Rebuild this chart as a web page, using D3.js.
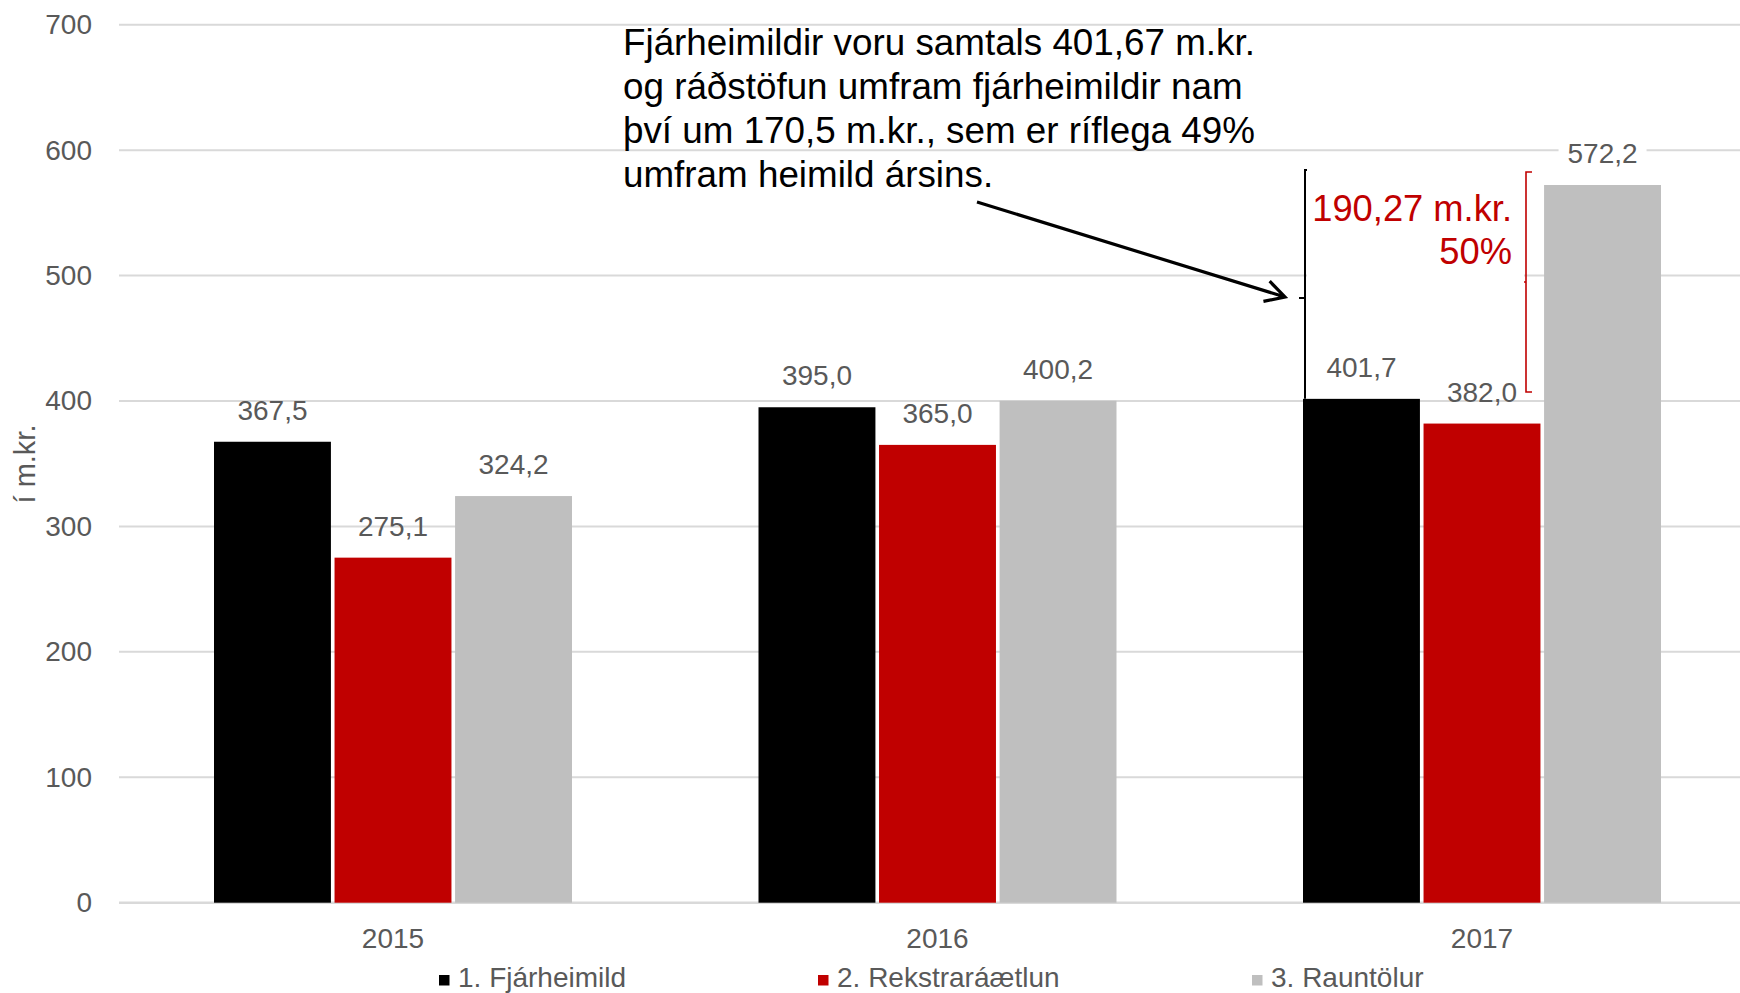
<!DOCTYPE html>
<html>
<head>
<meta charset="utf-8">
<script src="https://cdn.jsdelivr.net/npm/d3@7"></script>
<style>
  body { margin: 0; background: #fff; }
  svg { display: block; font-family: "Liberation Sans", Arial, sans-serif; }
</style>
</head>
<body>
<div id="chart"></div>
<script>
// data
const years = ["2015", "2016", "2017"];
const seriesNames = ["1. Fjárheimild", "2. Rekstraráætlun", "3. Rauntölur"];
const fjarheimild = [367.5, 395.0, 401.7];
const rekstraraaetlun = [275.1, 365.0, 382.0];
const rauntolur = [324.2, 400.2, 572.2];
const seriesColors = ["#000000", "#C00000", "#BFBFBF"];
const yTicks = [0, 100, 200, 300, 400, 500, 600, 700];
const yLabel = "í m.kr.";
const noteLines = [
    "Fjárheimildir voru samtals 401,67 m.kr.",
    "og ráðstöfun umfram fjárheimildir nam",
    "því um 170,5 m.kr., sem er ríflega 49%",
    "umfram heimild ársins."
];
const gapLines = ["190,27 m.kr.", "50%"];

const width = 1740;
const height = 993;
const labelColor = "#595959";
const fmt = v => v.toFixed(1).replace(".", ",");

const svg = d3.select("#chart")
    .append("svg")
    .attr("width", width)
    .attr("height", height);

const y = d3.scaleLinear().domain([0, 700]).range([902.7, 24.7]);
const x = d3.scaleBand().domain(years).range([120.75, 1754.25]);
const groupWidth = 358;
const xs = d3.scaleBand().domain(seriesNames).range([0, groupWidth]).paddingInner(0.03);

// gridlines
svg.append("g")
    .selectAll("line")
    .data(yTicks)
    .enter()
    .append("line")
    .attr("x1", 119)
    .attr("x2", width)
    .attr("y1", d => y(d))
    .attr("y2", d => y(d))
    .attr("stroke", "#D9D9D9")
    .attr("stroke-width", d => d === 0 ? 2.5 : 2);

// y tick labels
svg.append("g")
    .selectAll("text")
    .data(yTicks)
    .enter()
    .append("text")
    .attr("x", 92)
    .attr("y", d => y(d) + 9.5)
    .attr("text-anchor", "end")
    .style("font-size", "28px")
    .style("fill", labelColor)
    .text(d => d);

svg.append("text")
    .attr("transform", "translate(35,464) rotate(-90)")
    .attr("text-anchor", "middle")
    .style("font-size", "29px")
    .style("fill", labelColor)
    .text(yLabel);

// bars
const seriesData = [fjarheimild, rekstraraaetlun, rauntolur].map((vals, i) => ({
    name: seriesNames[i],
    color: seriesColors[i],
    values: vals.map((v, j) => ({ year: years[j], value: v }))
}));

const groupX = yr => x(yr) + (x.bandwidth() - groupWidth) / 2;

const series = svg.append("g")
    .selectAll("g")
    .data(seriesData)
    .enter()
    .append("g");

series.selectAll("rect")
    .data(d => d.values.map(v => ({ ...v, name: d.name, color: d.color })))
    .enter()
    .append("rect")
    .attr("x", d => groupX(d.year) + xs(d.name))
    .attr("y", d => y(d.value))
    .attr("width", xs.bandwidth())
    .attr("height", d => y(0) - y(d.value))
    .attr("fill", d => d.color);

// data labels (the last series gets a white box, as in the original)
const labels = svg.append("g");
seriesData.forEach((s, i) => {
    s.values.forEach(v => {
        const cx = groupX(v.year) + xs(s.name) + xs.bandwidth() / 2;
        const by = y(v.value) - 22;
        if (i === 2) {
            labels.append("rect")
                .attr("x", cx - 44)
                .attr("y", by - 27)
                .attr("width", 88)
                .attr("height", 34)
                .attr("fill", "#fff");
        }
        labels.append("text")
            .attr("x", cx)
            .attr("y", by)
            .attr("text-anchor", "middle")
            .style("font-size", "28px")
            .style("fill", labelColor)
            .text(fmt(v.value));
    });
});

// x axis labels
svg.append("g")
    .selectAll("text")
    .data(years)
    .enter()
    .append("text")
    .attr("x", d => x(d) + x.bandwidth() / 2)
    .attr("y", 948)
    .attr("text-anchor", "middle")
    .style("font-size", "28px")
    .style("fill", labelColor)
    .text(d => d);

// legend
const legendX = [439, 818, 1252];
const legend = svg.append("g")
    .selectAll("g")
    .data(seriesData)
    .enter()
    .append("g")
    .attr("transform", (d, i) => `translate(${legendX[i]},0)`);

legend.append("rect")
    .attr("x", 0)
    .attr("y", 975)
    .attr("width", 10.5)
    .attr("height", 10.5)
    .attr("fill", d => d.color);

legend.append("text")
    .attr("x", 19)
    .attr("y", 987)
    .style("font-size", "28px")
    .style("fill", labelColor)
    .text(d => d.name);

// annotation: black bracket on top of the 2017 appropriation bar
const bx = 1305;
svg.append("path")
    .attr("d", `M${bx + 6},170 H${bx} V${y(fjarheimild[2])} M${bx - 6},298 H${bx}`)
    .attr("fill", "none")
    .attr("stroke", "#000")
    .attr("stroke-width", 2);

// red bracket between budget and actuals
const rx = 1526;
svg.append("path")
    .attr("d", `M${rx + 6},172 H${rx} V392 H${rx + 6} M${rx - 6},282 H${rx}`)
    .attr("fill", "none")
    .attr("stroke", "#C00000")
    .attr("stroke-width", 1.6);

svg.append("rect")
    .attr("x", 1307)
    .attr("y", 160)
    .attr("width", 217)
    .attr("height", 128)
    .attr("fill", "#fff");

svg.append("g")
    .selectAll("text")
    .data(gapLines)
    .enter()
    .append("text")
    .attr("x", 1512)
    .attr("y", (d, i) => 221 + i * 43)
    .attr("text-anchor", "end")
    .style("font-size", "36.3px")
    .style("fill", "#C00000")
    .text(d => d);

// note text
svg.append("g")
    .selectAll("text")
    .data(noteLines)
    .enter()
    .append("text")
    .attr("x", 623)
    .attr("y", (d, i) => 55 + i * 44)
    .style("font-size", "36.8px")
    .style("fill", "#000")
    .text(d => d);

// arrow
const a0 = [977, 202], a1 = [1285, 297];
const ang = Math.atan2(a1[1] - a0[1], a1[0] - a0[0]);
const head = 22, spread = 0.5;
svg.append("path")
    .attr("d", `M${a0[0]},${a0[1]} L${a1[0]},${a1[1]}` +
        ` M${a1[0] - head * Math.cos(ang - spread)},${a1[1] - head * Math.sin(ang - spread)}` +
        ` L${a1[0]},${a1[1]}` +
        ` L${a1[0] - head * Math.cos(ang + spread)},${a1[1] - head * Math.sin(ang + spread)}`)
    .attr("fill", "none")
    .attr("stroke", "#000")
    .attr("stroke-width", 3.2)
    .attr("stroke-linejoin", "miter");
</script>
</body>
</html>
